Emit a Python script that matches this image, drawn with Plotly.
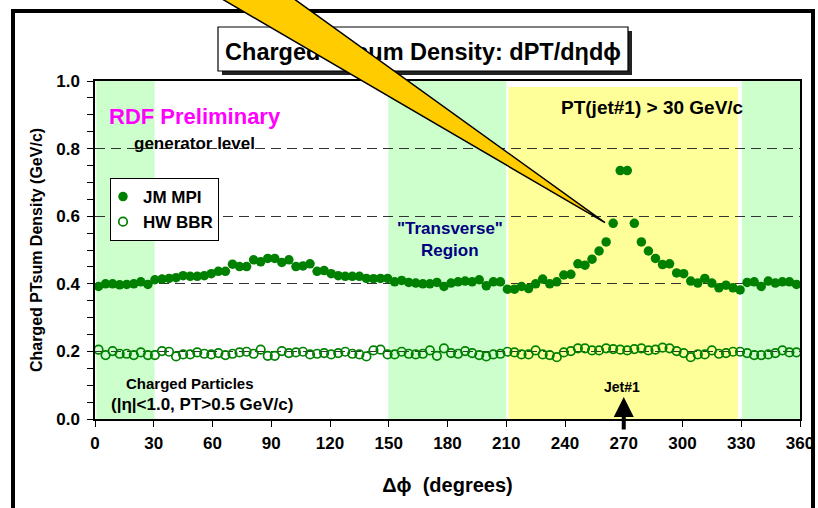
import plotly.graph_objects as go

# ---------------- data ----------------
phi = [round(1.8 + 3.6 * i, 1) for i in range(100)]  # 3.6 degree bin centres

jm_mpi = [
    0.392, 0.400, 0.400, 0.397, 0.398, 0.400, 0.406, 0.398, 0.412, 0.414,
    0.416, 0.418, 0.424, 0.422, 0.422, 0.424, 0.430, 0.437, 0.437, 0.458,
    0.451, 0.451, 0.471, 0.465, 0.475, 0.475, 0.463, 0.471, 0.451, 0.453,
    0.459, 0.437, 0.439, 0.430, 0.424, 0.422, 0.422, 0.422, 0.416, 0.415,
    0.416, 0.416, 0.406, 0.410, 0.404, 0.402, 0.400, 0.400, 0.404, 0.392,
    0.402, 0.406, 0.408, 0.406, 0.412, 0.394, 0.406, 0.406, 0.384,
    0.384, 0.392, 0.386, 0.400, 0.414, 0.400, 0.406, 0.426, 0.428, 0.459,
    0.455, 0.473, 0.497, 0.524, 0.579, 0.735, 0.735, 0.579, 0.524,
    0.497, 0.475, 0.457, 0.459, 0.432, 0.430, 0.408, 0.402, 0.416, 0.402,
    0.388, 0.396, 0.388, 0.382, 0.404, 0.406, 0.392, 0.408, 0.402, 0.406,
    0.406, 0.398,
]

hw_bbr = [
    0.205, 0.189, 0.201, 0.193, 0.193, 0.189, 0.197, 0.189, 0.189, 0.201,
    0.199, 0.185, 0.191, 0.191, 0.197, 0.193, 0.191, 0.195, 0.189, 0.193,
    0.197, 0.199, 0.193, 0.205, 0.187, 0.187, 0.201, 0.195, 0.197, 0.199,
    0.191, 0.193, 0.195, 0.191, 0.195, 0.199, 0.193, 0.191, 0.185, 0.203,
    0.205, 0.191, 0.191, 0.199, 0.193, 0.191, 0.193, 0.203, 0.187, 0.209,
    0.195, 0.193, 0.201, 0.195, 0.189, 0.185, 0.191, 0.193, 0.199,
    0.197, 0.191, 0.191, 0.203, 0.191, 0.189, 0.183, 0.197, 0.201, 0.209,
    0.209, 0.203, 0.203, 0.209, 0.207, 0.205, 0.203, 0.207, 0.209, 0.203,
    0.205, 0.211, 0.209, 0.201, 0.195, 0.183, 0.191, 0.191, 0.203, 0.193,
    0.195, 0.199, 0.199, 0.195, 0.189, 0.189, 0.191, 0.195, 0.203, 0.197,
    0.197,
]

x_ticks = [0, 30, 60, 90, 120, 150, 180, 210, 240, 270, 300, 330, 360]
y_ticks = [0.0, 0.2, 0.4, 0.6, 0.8, 1.0]
y_ticklabels = ["0.0", "0.2", "0.4", "0.6", "0.8", "1.0"]

green_bands = [(0.7, 30.4), (149.8, 210.0), (330.3, 360.5)]
yellow_band = (211.1, 328.3)

# ---------------- style ----------------
FONT = "Liberation Sans, Arial, sans-serif"
GREEN = "#008000"
W, H = 818, 508
L, R, T, B = 95, 18, 81, 89
PW, PH = W - L - R, H - T - B


def px(xp):
    return (xp - L) / PW


def py(yp):
    return (H - B - yp) / PH


def bold(size, color="black"):
    return dict(family=FONT, size=size, color=color, weight="bold")


fig = go.Figure()

fig.add_trace(go.Scatter(
    x=phi, y=jm_mpi, mode="markers", name="JM MPI",
    marker=dict(symbol="circle", size=9.5, color=GREEN, line=dict(width=0)),
))
fig.add_trace(go.Scatter(
    x=phi, y=hw_bbr, mode="markers", name="HW BBR",
    marker=dict(symbol="circle-open", size=8.5, color=GREEN,
                line=dict(width=1.7, color=GREEN)),
))

shapes = []
for x0, x1 in green_bands:
    shapes.append(dict(type="rect", xref="x", yref="y", x0=x0, x1=x1,
                       y0=-0.012, y1=1.0, fillcolor="#ccffcc",
                       line=dict(width=0), layer="below"))
shapes.append(dict(type="rect", xref="x", yref="y", x0=yellow_band[0],
                   x1=yellow_band[1], y0=0.0, y1=0.982, fillcolor="#ffff99",
                   line=dict(width=0), layer="below"))

# slide frame
shapes.append(dict(type="rect", xref="paper", yref="paper",
                   x0=px(13), x1=px(813), y0=py(540), y1=py(11),
                   line=dict(color="black", width=4), fillcolor="rgba(0,0,0,0)",
                   layer="above"))
# title box shadow + box with label
shapes.append(dict(type="rect", xref="paper", yref="paper",
                   x0=px(222), x1=px(632), y0=py(75), y1=py(31),
                   line=dict(width=0), fillcolor="#222222", layer="above"))
shapes.append(dict(type="rect", xref="paper", yref="paper",
                   x0=px(218), x1=px(628), y0=py(71), y1=py(27),
                   line=dict(color="black", width=1.2), fillcolor="white",
                   layer="above",
                   label=dict(text="Charged PTsum Density: dPT/d\u03b7d\u03d5",
                              font=bold(23.5), textposition="middle center")))
# callout wedge
wedge = "M {:.4f} {:.4f} L {:.4f} {:.4f} L {:.4f} {:.4f} Z".format(
    px(217), py(-4), px(290), py(-4), px(605), py(222.7))
shapes.append(dict(type="path", xref="paper", yref="paper", path=wedge,
                   fillcolor="#ffcc00", line=dict(color="black", width=1.5),
                   layer="above"))


def label(x, ypix, text, font):
    return dict(x=x, y=py(ypix), xref="x", yref="paper", text=text,
                font=font, showarrow=False, xanchor="center",
                yanchor="middle")


annotations = [
    label(51, 116, "RDF Preliminary", bold(22, "#ff00ff")),
    label(51, 143, "generator level", bold(17)),
    label(181.3, 228, '"Transverse"', bold(17, "#000080")),
    label(181.3, 250.5, "Region", bold(17, "#000080")),
    label(284.7, 108, "PT(jet#1) > 30 GeV/c", bold(19)),
    label(48.3, 383, "Charged Particles", bold(15)),
    label(54.6, 404, "(|\u03b7|<1.0, PT>0.5 GeV/c)", bold(17)),
    label(269.1, 387, "Jet#1", bold(14)),
    dict(x=270, y=py(397), xref="x", yref="paper", text="", showarrow=True,
         ax=0, ay=34, arrowhead=2, arrowsize=1.0, arrowwidth=4,
         arrowcolor="black"),
]

fig.update_layout(
    width=W, height=H,
    margin=dict(l=L, r=R, t=T, b=B, autoexpand=False),
    paper_bgcolor="white", plot_bgcolor="white",
    font=dict(family=FONT, color="black"),
    shapes=shapes, annotations=annotations,
    showlegend=True,
    legend=dict(x=px(110), y=py(178), xanchor="left", yanchor="top",
                bgcolor="white", bordercolor="black", borderwidth=1,
                font=bold(17), indentation=-8, tracegroupgap=0),
    xaxis=dict(range=[0, 360], tickvals=x_ticks, ticks="outside", ticklen=6,
               tickwidth=1.2, tickcolor="black", showline=True,
               linecolor="black", linewidth=1.5, mirror=True, showgrid=False,
               zeroline=False, tickfont=bold(17), ticklabelstandoff=2,
               title=dict(text="\u0394\u03d5  (degrees)", font=bold(20),
                          standoff=26)),
    xaxis2=dict(range=[0, 360], overlaying="x", anchor="y", side="bottom",
                tickvals=x_ticks, ticks="inside", ticklen=6, tickwidth=1.2,
                tickcolor="black", showticklabels=False, showline=False,
                showgrid=False, zeroline=False),
    yaxis=dict(range=[0, 1.0], tickvals=y_ticks, ticktext=y_ticklabels,
               ticks="outside", ticklen=6, tickwidth=1.2, tickcolor="black",
               minor=dict(dtick=0.05, ticks="outside", ticklen=6,
                          tickwidth=1.2, tickcolor="black", showgrid=False),
               showline=True, linecolor="black", linewidth=1.5, mirror=True,
               showgrid=True, gridcolor="#333333", gridwidth=1,
               griddash="10px,6px", zeroline=False, tickfont=bold(17),
               ticklabelstandoff=4,
               title=dict(text="Charged PTsum Density (GeV/c)",
                          font=bold(16), standoff=10)),
)

fig.write_html("out.html",
               config={"displayModeBar": False},
               post_script="document.body.style.margin='0px';")
